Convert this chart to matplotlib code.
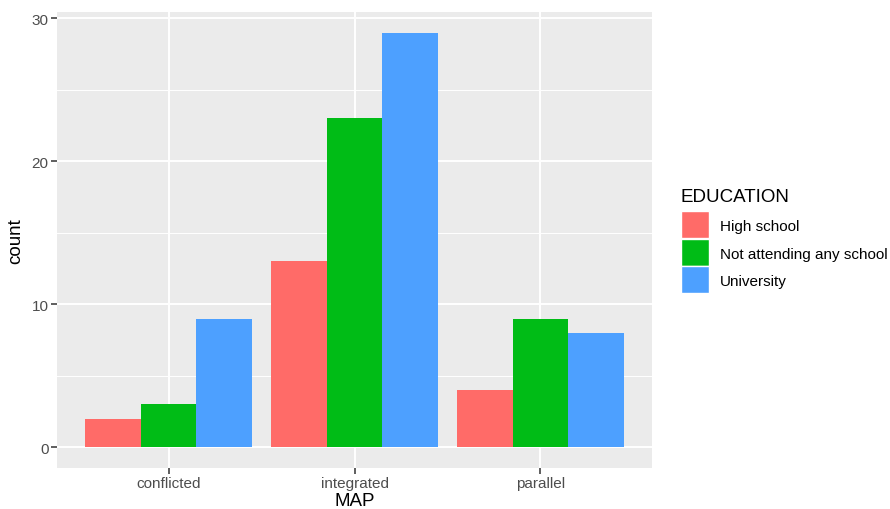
import numpy as np
import matplotlib
matplotlib.use("Agg")
import matplotlib.pyplot as plt
from matplotlib.patches import Rectangle

# data
maps = ["conflicted", "integrated", "parallel"]
education = ["High school", "Not attending any school", "University"]
high_school = [2, 13, 4]
not_attending = [3, 23, 9]
university = [9, 29, 8]

colors = ["#FF6B68", "#00BC16", "#4DA0FF"]
series = [high_school, not_attending, university]

plt.rcParams["font.family"] = ["Liberation Sans", "DejaVu Sans"]

W, H = 890, 510
fig = plt.figure(figsize=(W / 100, H / 100), dpi=100)


def fx(px):
    return px / W


def fy(py):
    return 1 - py / H


# panel in pixel coords: left 57, top 13, right 652, bottom 469
ax = fig.add_axes([fx(57), fy(469), fx(652) - fx(57), fy(13) - fy(469)])
ax.set_facecolor("#EBEBEB")
for s in ax.spines.values():
    s.set_visible(False)

x = np.arange(1, len(maps) + 1)
bw = 0.9 / 3
for i, (vals, c) in enumerate(zip(series, colors)):
    ax.bar(x + (i - 1) * bw, vals, width=bw, color=c, zorder=3, linewidth=0)

ax.set_xlim(0.4, 3.6)
ax.set_ylim(-1.45, 30.45)
ax.set_xticks(x)
ax.set_xticklabels(maps)
ax.set_yticks([0, 10, 20, 30])
ax.set_yticks([5, 15, 25], minor=True)

ax.grid(which="major", color="white", linewidth=1.4, zorder=0)
ax.grid(which="minor", axis="y", color="white", linewidth=0.7, zorder=0)
ax.set_axisbelow(True)

ax.tick_params(which="major", length=4, width=1.1, color="#333333",
               labelsize=11, labelcolor="#4D4D4D", pad=2)
ax.tick_params(which="minor", length=0)

ax.set_xlabel("MAP", fontsize=13.5, labelpad=1.5)
ax.set_ylabel("count", fontsize=13.5, labelpad=5)

# legend drawn by hand, ggplot style
fig.text(fx(681), fy(198), "EDUCATION", fontsize=13.5, va="center", ha="left")
key_tops = [212, 240, 267]
for top, lab, c in zip(key_tops, education, colors):
    fig.patches.append(Rectangle((fx(681), fy(top + 27)), fx(28), fy(0) - fy(27),
                                 transform=fig.transFigure, facecolor=c,
                                 edgecolor="white", linewidth=1))
    fig.text(fx(720), fy(top + 15), lab, fontsize=11, va="center", ha="left")

fig.savefig("out.png", dpi=100)
